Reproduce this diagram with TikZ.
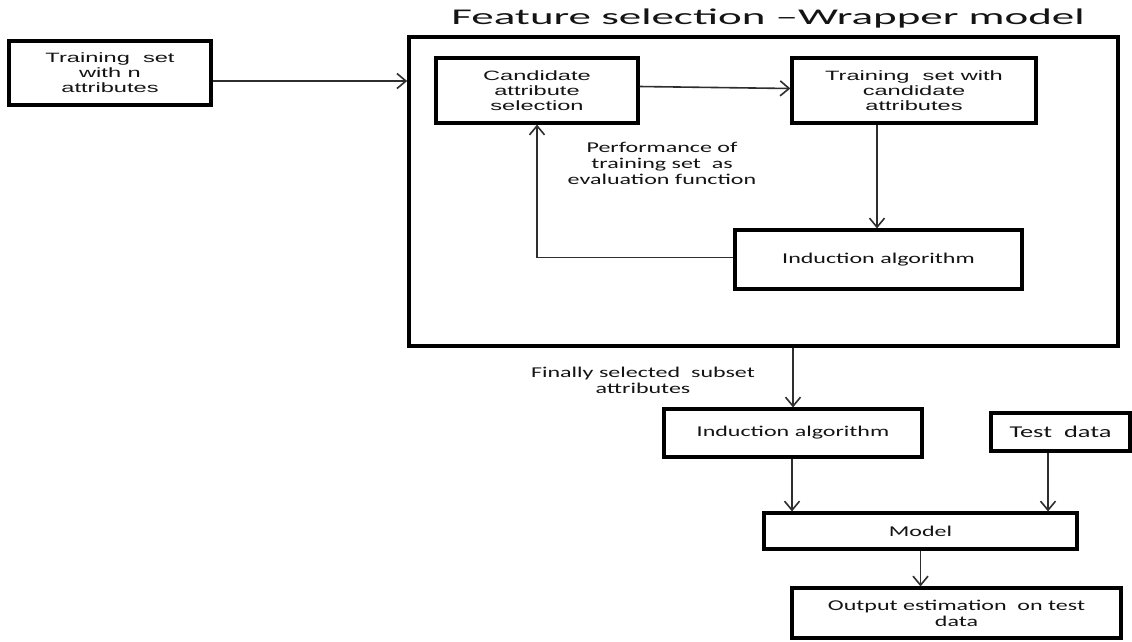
\documentclass[tikz,border=0pt]{standalone}
\usepackage{fontspec}
\usetikzlibrary{arrows.meta,calc}
\newfontfamily\arialf[FakeStretch=1.75]{Liberation Sans}
\newfontfamily\calf[FakeStretch=1.6]{Carlito}
\newfontfamily\titlef[FakeStretch=2.0]{Carlito}
\definecolor{txt}{HTML}{141414}
\definecolor{conn}{HTML}{2E2E2E}
\tikzset{
  boxA/.style={draw=black, line width=3.2pt, rectangle, inner sep=0pt, align=center,
     text=txt, font=\arialf\fontsize{13.5}{15}\selectfont},
  boxC/.style={draw=black, line width=3.2pt, rectangle, inner sep=0pt, align=center,
     text=txt, font=\calf\fontsize{15}{16}\selectfont},
  lbl/.style={align=center, inner sep=0pt, text=txt, font=\calf\fontsize{15}{16}\selectfont},
  arr/.style={draw=conn, line width=1.6pt, -{Straight Barb[length=9pt,width=15pt,line width=1.6pt]}},
  link/.style={draw=conn, line width=1.6pt}
}
\begin{document}
\begin{tikzpicture}[x=1pt,y=-1pt]
\useasboundingbox (0,0) rectangle (1132,641);
\fill[white] (0,0) rectangle (1132,641);

\node[text=txt, inner sep=0pt, font=\titlef\fontsize{22.5}{24}\selectfont] (title) at (768,18) {Feature selection –Wrapper model};

\node[draw=black, line width=3.6pt, rectangle, inner sep=0pt, minimum width=709pt, minimum height=309pt] (wrap) at (763.5,191.5) {};

\node[boxA, minimum width=202pt, minimum height=64pt] (train) at (110,73) {Training\ \ set\\with n\\attributes};
\node[boxA, minimum width=202pt, minimum height=65pt] (cand) at (537,90.5) {Candidate\\attribute\\selection};
\node[boxA, minimum width=244pt, minimum height=65pt] (tcand) at (914,90.5) {Training\ \ set with\\candidate\\attributes};
\node[boxC, minimum width=287pt, minimum height=59pt] (ind1) at (878.5,259.5) {Induction algorithm};
\node[lbl] (perf) at (662,163) {Performance of\\training set\ \ as\\evaluation function};

\node[lbl] (final) at (643,380) {Finally selected\ \ subset\\attributes};
\node[boxC, minimum width=258pt, minimum height=48pt] (ind2) at (793,433) {Induction algorithm};
\node[boxC, minimum width=139pt, minimum height=38pt, font=\calf\fontsize{16.5}{17}\selectfont] (test) at (1060.5,432) {Test\ \ data};
\node[boxC, minimum width=313pt, minimum height=36pt] (model) at (920.5,531) {Model};
\node[boxC, minimum width=329pt, minimum height=50pt] (out) at (956.5,613) {Output estimation\ \ on test\\data};

\draw[arr] ([yshift=-8pt]train.east) -- ([yshift=-8pt]train.east -| wrap.west);
\draw[arr] ([yshift=4pt]cand.east) -- ([yshift=2pt]tcand.west);
\draw[arr] ([xshift=-37pt]tcand.south) -- ([xshift=-37pt]tcand.south |- ind1.north);
\draw[arr] ([yshift=2pt]ind1.west) -| (cand.south);
\draw[arr] (wrap.south -| ind2.north) -- (ind2.north);
\draw[arr] ([xshift=-1pt]ind2.south) -- ([xshift=-1pt]ind2.south |- model.north);
\draw[arr] ([xshift=-12.5pt]test.south) -- ([xshift=-12.5pt]test.south |- model.north);
\draw[arr] (model.south) -- (model.south |- out.north);
\end{tikzpicture}
\end{document}
